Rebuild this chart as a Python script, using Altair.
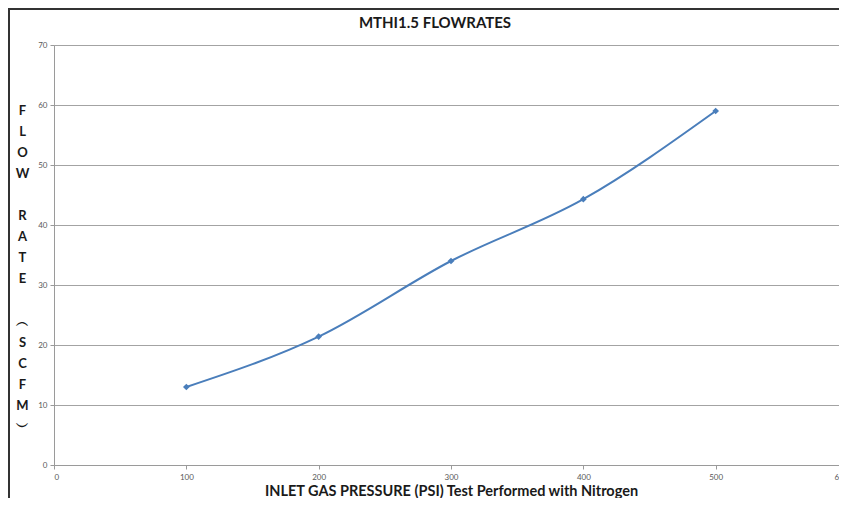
import altair as alt
import pandas as pd

pressure = [100, 200, 300, 400, 500]
flow = [13.0, 21.4, 34.0, 44.3, 59.0]
x_ticks = [0, 100, 200, 300, 400, 500, 600]
y_ticks = [0, 10, 20, 30, 40, 50, 60, 70]
title_text = "MTHI1.5 FLOWRATES"
x_title = "INLET GAS PRESSURE (PSI) Test Performed with Nitrogen"
y_title_lines = ["F", "L", "O", "W", "\u200b", "R", "A", "T", "E", "\u200b", "\ufe35", "S", "C", "F", "M", "\ufe36"]

df = pd.DataFrame({"pressure": pressure, "flow": flow})
title_df = pd.DataFrame({"t": [title_text]})

BLUE = "#4a7ebb"
FONT = "Lato"

x_enc = alt.X(
    "pressure:Q",
    scale=alt.Scale(domain=[0, 600], nice=False, zero=True),
    axis=alt.Axis(
        values=x_ticks, title=x_title, grid=False,
        labelFontSize=8, labelColor="#595959", labelFont=FONT, labelPadding=4,
        tickSize=4, tickColor="#9a9a9a", domainColor="#9a9a9a",
        titleFontSize=14.5, titleFont=FONT, titleFontWeight="bold", titleColor="#1a1a1a",
        titlePadding=3,
    ),
)
y_enc = alt.Y(
    "flow:Q",
    scale=alt.Scale(domain=[0, 70], nice=False),
    axis=alt.Axis(
        values=y_ticks, title=y_title_lines, grid=True, gridColor="#a3a3a3",
        labelFontSize=8, labelColor="#595959", labelFont=FONT, labelPadding=3,
        tickSize=4, tickColor="#9a9a9a", domainColor="#9a9a9a",
        titleFontSize=13, titleFont=FONT, titleFontWeight="bold", titleColor="#1a1a1a",
        titleAngle=0, titleAlign="center", titleBaseline="top",
        titleX=-32, titleY=59, titleLineHeight=21.1,
    ),
)

line = alt.Chart(df).mark_line(interpolate="monotone", color=BLUE, strokeWidth=2).encode(x=x_enc, y=y_enc)
pts = alt.Chart(df).mark_point(shape="diamond", filled=True, size=45, color=BLUE, opacity=1).encode(x="pressure:Q", y="flow:Q")

frame_left = alt.Chart(df).mark_rule(color="#333333", strokeWidth=2).encode(
    x=alt.value(-45), y=alt.value(-37), y2=alt.value(470)
)
frame_top = alt.Chart(df).mark_rule(color="#333333", strokeWidth=2).encode(
    x=alt.value(-46), x2=alt.value(800), y=alt.value(-36)
)
title_mark = alt.Chart(title_df).mark_text(
    font=FONT, fontSize=15, fontWeight="bold", color="#1a1a1a", align="center", baseline="alphabetic"
).encode(text="t:N", x=alt.value(381), y=alt.value(-17))

chart = alt.layer(line, pts, frame_left, frame_top, title_mark).properties(
    width=794,
    height=420,
    autosize=alt.AutoSizeParams(type="none"),
    padding={"left": 46, "top": 37, "right": -9, "bottom": 33},
).configure_view(stroke=None).configure(background="white")

chart.save("out.html", embed_options={"renderer": "svg", "actions": False})
